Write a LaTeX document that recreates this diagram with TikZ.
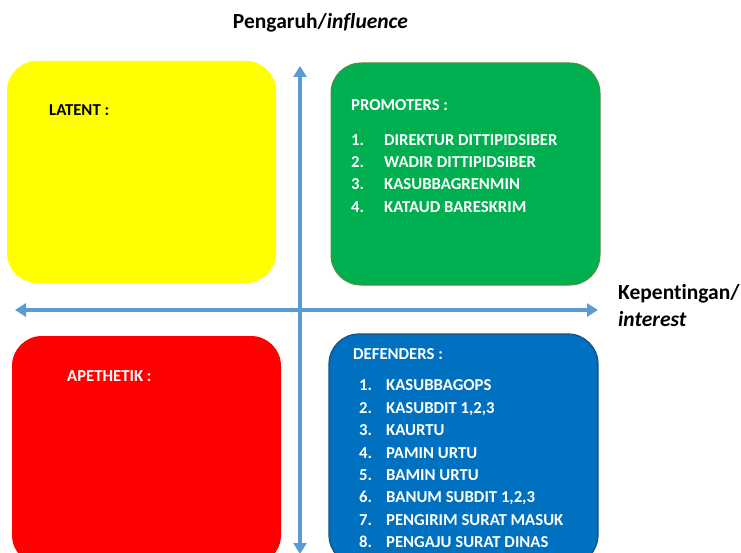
\documentclass[tikz,border=0pt]{standalone}
\usepackage{fontspec}
\setmainfont{Carlito}[Ligatures={NoCommon,NoRare}]
\usetikzlibrary{arrows.meta}
\definecolor{latentyellow}{HTML}{FFFF00}
\definecolor{promgreen}{HTML}{00B050}
\definecolor{promedge}{HTML}{5E8A3C}
\definecolor{apred}{HTML}{FF0000}
\definecolor{defblue}{HTML}{0070C0}
\definecolor{defedge}{HTML}{1F4E79}
\definecolor{axisblue}{HTML}{5B9BD5}

\begin{document}
\begin{tikzpicture}[x=1pt,y=-1pt,>={Triangle[width=13pt,length=11pt]},
                    font=\bfseries\fontsize{16.7}{20}\selectfont]
  \tikzstyle{quad}=[rectangle, rounded corners=30pt, inner sep=0pt,
    minimum width=269pt, minimum height=222pt]
  \tikzstyle{label}=[anchor=base west, inner sep=0pt]
  \tikzstyle{axislabel}=[font=\bfseries\fontsize{21.5}{24}\selectfont]
  \tikzstyle{axis}=[axisblue, line width=4.5pt, <->]
  \useasboundingbox (0,0) rectangle (741,553);

  % the four quadrants
  \node[quad, fill=latentyellow] (latent) at (141.5,172) {};
  \node[quad, fill=promgreen, draw=promedge, line width=1pt] (promoters) at (465.5,174) {};
  \node[quad, fill=apred, minimum height=229pt] (apathetic) at (146.5,450.5) {};
  \node[quad, fill=defblue, draw=defedge, line width=1.2pt, minimum height=231pt] (defenders) at (463.5,449.5) {};

  % axes
  \coordinate (vtop) at (300,66);
  \coordinate (vbot) at (300,554);
  \coordinate (hleft) at (15,310);
  \coordinate (hright) at (598,310);
  \draw[axis] (vtop) -- (vbot);
  \draw[axis] (hleft) -- (hright);

  \node[anchor=base, inner sep=0pt, axislabel] (influence) at (320.5,29) {Pengaruh/\textit{influence}};
  \node[label, axislabel] (interest1) at (618,299) {Kepentingan/};
  \node[label, axislabel] (interest2) at (618,326) {\textit{interest}};

  % headings
  \node[label] (latenthead) at (49,116) {LATENT :};
  \node[label, white] (promhead) at (351,111) {PROMOTERS :};
  \node[label, white] (aphead) at (67,381) {APETHETIK :};
  \node[label, white] (defhead) at (353,359) {DEFENDERS :};

  % lists
  \foreach \i/\t in {1/DIREKTUR DITTIPIDSIBER, 2/WADIR DITTIPIDSIBER,
                     3/KASUBBAGRENMIN, 4/KATAUD BARESKRIM} {
    \node[label, white] (promnum\i) at (351,{123+22.3*\i}) {\i.};
    \node[label, white] (promitem\i) at (384,{123+22.3*\i}) {\t};
  }
  \foreach \i/\t in {1/KASUBBAGOPS, 2/{KASUBDIT 1,2,3}, 3/KAURTU, 4/PAMIN URTU,
                     5/BAMIN URTU, 6/{BANUM SUBDIT 1,2,3}, 7/PENGIRIM SURAT MASUK,
                     8/PENGAJU SURAT DINAS} {
    \node[label, white] (defnum\i) at (359,{368.5+22.4*\i}) {\i.};
    \node[label, white] (defitem\i) at (386,{368.5+22.4*\i}) {\t};
  }
\end{tikzpicture}
\end{document}
